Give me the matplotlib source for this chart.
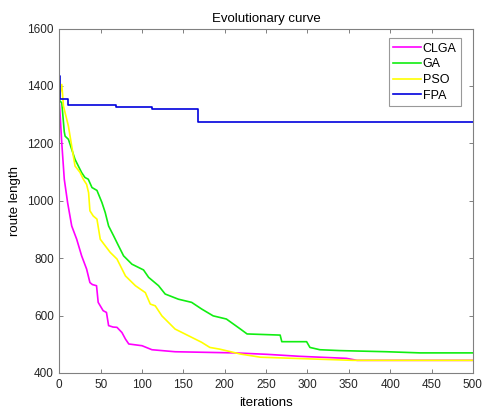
import matplotlib
matplotlib.use("Agg")
import matplotlib.pyplot as plt

plt.rcParams['font.family'] = ['Liberation Sans', 'DejaVu Sans']

# Best route length recorded along the run (iteration, length)
clga_iter = [0, 3, 6, 10, 15, 21, 27, 33, 37, 40, 45, 47, 53, 57, 59.6, 65, 69.7, 75.7, 80, 84, 100, 112, 140, 212, 251, 291, 347, 360, 500]
clga_val = [1347, 1200, 1075, 994, 912, 866, 808, 762, 715, 708, 704, 646, 617, 611, 565, 560, 559, 541, 518, 501, 495, 481, 474, 470, 465, 458, 451, 444, 444]

ga_iter = [0, 3, 6, 7, 11, 15, 19, 23, 27, 31, 35, 39.5, 45.5, 51.5, 55.5, 59.6, 65.6, 71.6, 77.7, 87.8, 101.8, 108, 120, 128, 144, 160, 172, 186, 202, 219, 227, 267, 269, 299, 303, 315, 339, 396, 436, 500]
ga_val = [1350, 1341, 1240, 1225, 1214, 1179, 1144, 1121, 1098, 1081, 1075, 1046, 1036, 994, 959, 912, 878, 843, 808, 779, 759, 733, 704, 675, 657, 646, 623, 599, 588, 553, 536, 532, 509, 509, 489, 481, 478, 474, 470, 470]

pso_iter = [0, 3, 5, 11, 15, 19, 25, 29, 33, 35.4, 37, 41, 45.5, 49.5, 55.5, 61.6, 69.7, 80, 92, 104, 110, 116, 124, 140, 156, 172, 182, 194, 219, 243, 283, 355, 500]
pso_val = [1360, 1405, 1330, 1260, 1190, 1121, 1099, 1075, 1057, 1028, 965, 947, 936, 866, 843, 820, 797, 738, 704, 680, 640, 634, 599, 553, 530, 507, 489, 483, 466, 455, 451, 444, 444]

fpa_iter = [0, 1, 10, 68, 112, 168, 500]
fpa_val = [1433, 1355, 1332, 1328, 1321, 1276, 1276]

series_names = ['CLGA', 'GA', 'PSO', 'FPA']
series_colors = ['#ff00ff', '#11ee11', '#ffff00', '#0000dd']
series_draw = ['default', 'default', 'default', 'steps-post']

fig = plt.figure(figsize=(4.83, 4.12), dpi=100)
ax = fig.add_axes([0.1228, 0.0947, 0.8562, 0.8361])

for xs, ys, name, col, ds in zip([clga_iter, ga_iter, pso_iter, fpa_iter],
                                 [clga_val, ga_val, pso_val, fpa_val],
                                 series_names, series_colors, series_draw):
    ax.plot(xs, ys, drawstyle=ds, color=col, lw=1.2, label=name)

ax.set_xlim(0, 500)
ax.set_ylim(400, 1600)
ax.set_xticks(range(0, 501, 50))
ax.set_yticks(range(400, 1601, 200))
ax.tick_params(direction='in', length=3, labelsize=8.5, labelcolor='#262626',
               color='#808080', top=True, right=True, width=0.7, pad=4)
for sp in ax.spines.values():
    sp.set_color('#808080')
    sp.set_linewidth(0.8)

ax.set_title('Evolutionary curve', fontsize=9.5, pad=5)
ax.set_xlabel('iterations', fontsize=9.5, labelpad=5)
ax.set_ylabel('route length', fontsize=9.5, labelpad=4.5)

leg = ax.legend(loc='upper right', fontsize=9, frameon=True, fancybox=False,
                handlelength=2.2, handletextpad=0.15, borderpad=0.35,
                labelspacing=0.3, borderaxespad=0, bbox_to_anchor=(0.971, 0.972))
leg.get_frame().set_edgecolor('#808080')
leg.get_frame().set_linewidth(0.8)

fig.savefig('out.png', dpi=100)
